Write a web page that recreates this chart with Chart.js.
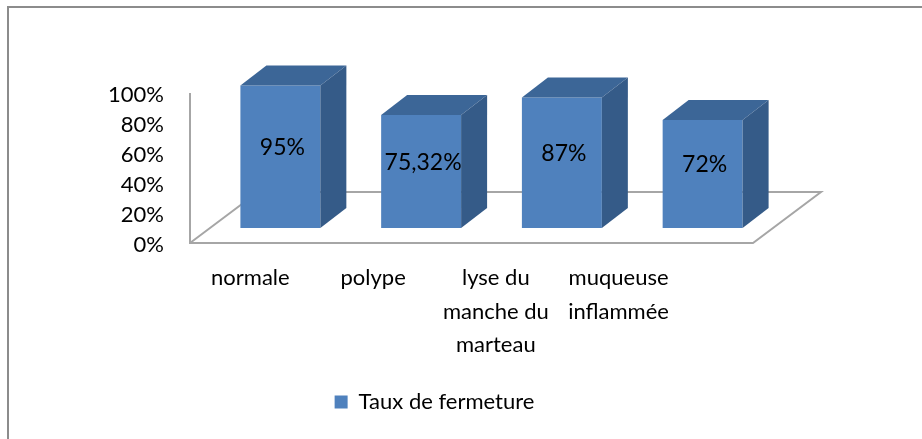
<!DOCTYPE html>
<html>
<head>
<meta charset="utf-8">
<script src="https://cdn.jsdelivr.net/npm/chart.js@4.4.1/dist/chart.umd.min.js"></script>
<style>
  html, body { margin: 0; padding: 0; background: #fff; overflow: hidden; }
  #wrap { position: relative; width: 922px; height: 439px; }
  #frame { position: absolute; left: 7px; top: 6px; width: 1000px; height: 1000px;
           border: 2px solid #8c8c8c; box-sizing: border-box; }
  #chart { position: absolute; left: 0; top: 0; }
</style>
</head>
<body>
<div id="wrap">
  <div id="frame"></div>
  <canvas id="chart" width="922" height="439"></canvas>
</div>
<script>
// Data
const categories = [["normale"], ["polype"], ["lyse du", "manche du", "marteau"], ["muqueuse", "inflammée"]];
const closureRates = [95, 75.32, 87, 72];
const yTicks = [0, 20, 40, 60, 80, 100];
const seriesName = "Taux de fermeture";

// Colours (Excel 3D column look)
const FRONT = "#4f81bd";
const TOP = "#3c6697";
const SIDE = "#355b88";
const FLOOR_LINE = "#a6a6a6";

// Fake 3D projection offsets, in pixels
const FLOOR_DX = 68, FLOOR_DY = 51;       // depth of the floor
const BAR_SHIFT_X = 20, BAR_SHIFT_Y = 15; // bars sit in the middle of the floor
const BAR_DX = 26, BAR_DY = 20;           // depth of one bar
const LABEL_SPREAD = 0.872;               // category labels are packed tighter than the bars
const LABEL_FONT = "22px Lato";

const pct = v => String(v).replace(".", ",") + "%";

const box3d = {
  id: "box3d",
  beforeDatasetsDraw(chart) {
    const { ctx, chartArea: a } = chart;
    // left wall edge + floor outline
    ctx.save();
    ctx.strokeStyle = FLOOR_LINE;
    ctx.lineWidth = 2;
    ctx.beginPath();
    ctx.moveTo(a.left, a.top);
    ctx.lineTo(a.left, a.bottom);
    ctx.lineTo(a.right, a.bottom);
    ctx.lineTo(a.right + FLOOR_DX, a.bottom - FLOOR_DY);
    ctx.lineTo(a.left + FLOOR_DX, a.bottom - FLOOR_DY);
    ctx.lineTo(a.left, a.bottom);
    ctx.stroke();
    ctx.restore();

    // push the bars back into the floor
    ctx.save();
    ctx.translate(BAR_SHIFT_X, -BAR_SHIFT_Y);
  },
  afterDatasetsDraw(chart) {
    const { ctx } = chart;
    const meta = chart.getDatasetMeta(0);

    meta.data.forEach((bar, i) => {
      const { x, y, base, width } = bar.getProps(["x", "y", "base", "width"], true);
      const l = x - width / 2, r = x + width / 2;

      // top face
      ctx.fillStyle = TOP;
      ctx.beginPath();
      ctx.moveTo(l, y);
      ctx.lineTo(l + BAR_DX, y - BAR_DY);
      ctx.lineTo(r + BAR_DX, y - BAR_DY);
      ctx.lineTo(r, y);
      ctx.closePath();
      ctx.fill();

      // right face
      ctx.fillStyle = SIDE;
      ctx.beginPath();
      ctx.moveTo(r, y);
      ctx.lineTo(r + BAR_DX, y - BAR_DY);
      ctx.lineTo(r + BAR_DX, base - BAR_DY);
      ctx.lineTo(r, base);
      ctx.closePath();
      ctx.fill();

      // value label
      ctx.fillStyle = "#000";
      ctx.font = "23px Lato";
      ctx.textAlign = "center";
      ctx.textBaseline = "middle";
      ctx.fillText(pct(closureRates[i]), x + 2, (y + base) / 2 - 9);
    });
    ctx.restore();

    // category labels on the front edge of the floor
    const xs = chart.scales.x;
    const a = chart.chartArea;
    ctx.save();
    ctx.fillStyle = "#000";
    ctx.font = LABEL_FONT;
    ctx.textAlign = "center";
    ctx.textBaseline = "middle";
    categories.forEach((lines, i) => {
      const px = xs.left + (xs.getPixelForValue(i) - xs.left) * LABEL_SPREAD - 1;
      lines.forEach((t, k) => ctx.fillText(t, px, a.bottom + 35 + k * 33.5));
    });
    ctx.restore();
  }
};

Chart.defaults.font.family = "Lato";
Chart.defaults.color = "#000";

new Chart("chart", {
  type: "bar",
  data: {
    labels: categories,
    datasets: [
      {
        label: seriesName,
        data: closureRates,
        backgroundColor: FRONT,
        borderWidth: 0,
        barPercentage: 0.568,
        categoryPercentage: 1,
      },
    ],
  },
  options: {
    responsive: false,
    animation: false,
    devicePixelRatio: 1,
    layout: { padding: { left: 90, right: 143, top: 93, bottom: 16 } },
    scales: {
      x: {
        type: "category",
        grid: { display: false, drawTicks: false },
        border: { display: false },
        ticks: { display: false },
        afterFit: scale => { scale.height = 138; },
      },
      y: {
        min: 0,
        max: 100,
        grid: { display: false, drawTicks: false },
        border: { display: false },
        afterBuildTicks: scale => { scale.ticks = yTicks.map(v => ({ value: v })); },
        afterFit: scale => { scale.width = 100; },
        ticks: {
          padding: 26,
          labelOffset: 2,
          font: { size: 22 },
          callback: v => v + "%",
        },
      },
      // empty axis on the right: room for the floor's depth, keeps the legend centred
      depth: {
        type: "linear",
        position: "right",
        grid: { display: false, drawTicks: false },
        border: { display: false },
        ticks: { display: false },
        afterFit: scale => { scale.width = 26; },
      },
    },
    plugins: {
      legend: {
        position: "bottom",
        labels: { boxWidth: 13, boxHeight: 13, font: { size: 22 }, color: "#000" },
      },
      tooltip: { enabled: false },
    },
  },
  plugins: [box3d],
});
</script>
</body>
</html>
